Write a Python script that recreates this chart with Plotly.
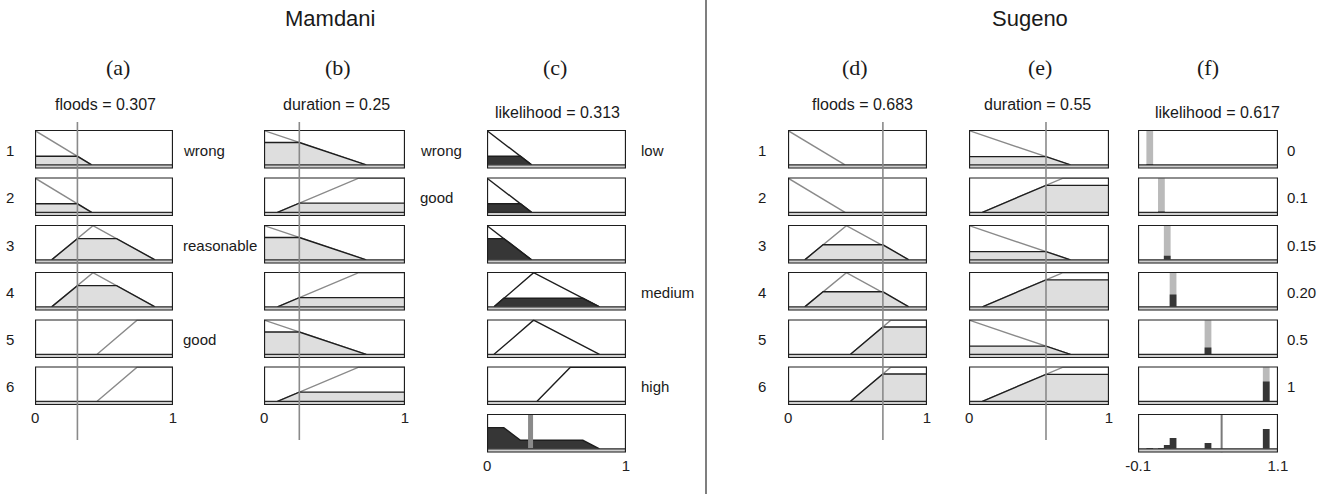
import plotly.graph_objects as go

W, H = 1322, 494

# ---------------- data ----------------
# membership functions (breakpoints)
floods_wrong_x = [0.0, 0.41];            floods_wrong_y = [1, 0]
floods_reason_x = [0.12, 0.42, 0.87];    floods_reason_y = [0, 1, 0]
floods_good_x = [0.45, 0.74, 1.0];       floods_good_y = [0, 1, 1]
dur_wrong_x = [0.0, 0.725];              dur_wrong_y = [1, 0]
dur_good_x = [0.095, 0.672, 1.0];        dur_good_y = [0, 1, 1]
lik_low_x = [0.0, 0.32];                 lik_low_y = [1, 0]
lik_med_x = [0.05, 0.335, 0.81];         lik_med_y = [0, 1, 0]
lik_high_x = [0.36, 0.60, 1.0];          lik_high_y = [0, 1, 1]

# rules
rule_floods = ["wrong", "wrong", "reasonable", "reasonable", "good", "good"]
rule_duration = ["wrong", "good", "wrong", "good", "wrong", "good"]
rule_mam_out = ["low", "low", "low", "medium", "medium", "high"]

# Mamdani inputs / output
mam_floods = 0.307
mam_duration = 0.25
mam_likelihood = 0.313
# clipped (fired) areas
mam_floods_fill_x = [[0, 0, 0.307, 0.41], [0, 0, 0.307, 0.41],
                     [0.12, 0.307, 0.591, 0.87], [0.12, 0.307, 0.591, 0.87], None, None]
mam_floods_fill_y = [[0, 0.25, 0.25, 0], [0, 0.25, 0.25, 0],
                     [0, 0.62, 0.62, 0], [0, 0.62, 0.62, 0], None, None]
mam_dur_fill_x = [[0, 0, 0.25, 0.725], [0.095, 0.25, 1, 1]] * 3
mam_dur_fill_y = [[0, 0.655, 0.655, 0], [0, 0.27, 0.27, 0]] * 3
mam_out_fill_x = [[0, 0, 0.24, 0.32], [0, 0, 0.24, 0.32], [0, 0, 0.12, 0.32],
                  [0.05, 0.12, 0.69, 0.81], None, None]
mam_out_fill_y = [[0, 0.25, 0.25, 0], [0, 0.25, 0.25, 0], [0, 0.62, 0.62, 0],
                  [0, 0.25, 0.25, 0], None, None]
mam_agg_x = [0, 0, 0.12, 0.24, 0.69, 0.81]
mam_agg_y = [0, 0.62, 0.62, 0.25, 0.25, 0]

# Sugeno inputs / output
sug_floods = 0.683
sug_duration = 0.55
sug_likelihood = 0.617
sug_floods_fill_x = [None, None, [0.12, 0.252, 0.683, 0.87], [0.12, 0.252, 0.683, 0.87],
                     [0.45, 0.683, 1, 1], [0.45, 0.683, 1, 1]]
sug_floods_fill_y = [None, None, [0, 0.44, 0.44, 0], [0, 0.44, 0.44, 0],
                     [0, 0.80, 0.80, 0], [0, 0.80, 0.80, 0]]
sug_dur_fill_x = [[0, 0, 0.55, 0.725], [0.095, 0.55, 1, 1]] * 3
sug_dur_fill_y = [[0, 0.24, 0.24, 0], [0, 0.79, 0.79, 0]] * 3
sug_consts = [0, 0.1, 0.15, 0.20, 0.5, 1.0]
sug_const_labels = ["0", "0.1", "0.15", "0.20", "0.5", "1"]
sug_fire = [0.02, 0.02, 0.12, 0.36, 0.20, 0.58]
sug_agg = [0.02, 0.02, 0.11, 0.32, 0.17, 0.58]

# ---------------- layout geometry (pixels) ----------------
col_px = [(35, 173), (264, 405), (487, 626), (788, 927), (969, 1109), (1138, 1278)]
col_rng = [(0, 1), (0, 1), (0, 1), (0, 1), (0, 1), (-0.1, 1.1)]
row_top = [130, 177.5, 225, 272, 319.5, 366.5, 414]
BOX_H = 38.5
YR = (-0.107, 1.02)

def px(xp):
    return xp / W

def py(yp):
    return 1 - yp / H

def xa(c):
    return "x" if c == 0 else f"x{c+1}"

def ya(r):
    return "y" if r == 0 else f"y{r+1}"

SANS = "Liberation Sans, Arial, sans-serif"
SERIF = "Liberation Serif, Times New Roman, serif"
GRAYLINE = "#8a8a8a"
BLACK = "#1e1e1e"
LIGHT = "#dedede"
DARK = "#363636"

fig = go.Figure()
shapes = []
annotations = []

def add_line(c, r, xs, ys, color, width=1.4):
    fig.add_trace(go.Scatter(x=xs, y=ys, mode="lines", line=dict(color=color, width=width),
                             xaxis=xa(c), yaxis=ya(r), hoverinfo="skip", showlegend=False))

def add_fill(c, r, xs, ys, fillcolor):
    if xs is None:
        return
    fig.add_trace(go.Scatter(x=xs, y=ys, mode="lines", fill="toself", fillcolor=fillcolor,
                             line=dict(color=BLACK, width=1.4),
                             xaxis=xa(c), yaxis=ya(r), hoverinfo="skip", showlegend=False))

floods_mf = {"wrong": (floods_wrong_x, floods_wrong_y),
             "reasonable": (floods_reason_x, floods_reason_y),
             "good": (floods_good_x, floods_good_y)}
dur_mf = {"wrong": (dur_wrong_x, dur_wrong_y), "good": (dur_good_x, dur_good_y)}
lik_mf = {"low": (lik_low_x, lik_low_y), "medium": (lik_med_x, lik_med_y),
          "high": (lik_high_x, lik_high_y)}

for r in range(6):
    # (a) floods Mamdani
    mx, my = floods_mf[rule_floods[r]]
    add_line(0, r, mx, my, GRAYLINE)
    add_fill(0, r, mam_floods_fill_x[r], mam_floods_fill_y[r], LIGHT)
    # (b) duration Mamdani
    mx, my = dur_mf[rule_duration[r]]
    add_line(1, r, mx, my, GRAYLINE)
    add_fill(1, r, mam_dur_fill_x[r], mam_dur_fill_y[r], LIGHT)
    # (c) likelihood Mamdani
    mx, my = lik_mf[rule_mam_out[r]]
    add_line(2, r, mx, my, BLACK)
    add_fill(2, r, mam_out_fill_x[r], mam_out_fill_y[r], DARK)
    # (d) floods Sugeno
    mx, my = floods_mf[rule_floods[r]]
    add_line(3, r, mx, my, GRAYLINE)
    add_fill(3, r, sug_floods_fill_x[r], sug_floods_fill_y[r], LIGHT)
    # (e) duration Sugeno
    mx, my = dur_mf[rule_duration[r]]
    add_line(4, r, mx, my, GRAYLINE)
    add_fill(4, r, sug_dur_fill_x[r], sug_dur_fill_y[r], LIGHT)
    # (f) constants Sugeno
    fig.add_trace(go.Bar(x=[sug_consts[r]], y=[1.0], width=0.058, marker=dict(color="#bababa", line=dict(width=0)),
                         xaxis=xa(5), yaxis=ya(r), hoverinfo="skip", showlegend=False))
    fig.add_trace(go.Bar(x=[sug_consts[r]], y=[sug_fire[r]], width=0.058, marker=dict(color=DARK, line=dict(width=0)),
                         xaxis=xa(5), yaxis=ya(r), hoverinfo="skip", showlegend=False))

# aggregated outputs
add_fill(2, 6, mam_agg_x, mam_agg_y, DARK)
add_line(2, 6, [mam_likelihood, mam_likelihood], [0, 1.02], "#8a8a8a", width=5)
fig.add_trace(go.Bar(x=sug_consts, y=sug_agg, width=0.058, marker=dict(color=DARK, line=dict(width=0)),
                     xaxis=xa(5), yaxis=ya(6), hoverinfo="skip", showlegend=False))
add_line(5, 6, [sug_likelihood, sug_likelihood], [-0.107, 1.02], "#7a7a7a", width=2)

# axes
layout = dict(width=W, height=H, margin=dict(l=0, r=0, t=0, b=0, autoexpand=False),
              paper_bgcolor="white", plot_bgcolor="rgba(0,0,0,0)",
              barmode="overlay", showlegend=False)
for c in range(6):
    x0p, x1p = col_px[c]
    lo, hi = col_rng[c]
    nrows = 7 if c in (2, 5) else 6
    key = "xaxis" if c == 0 else f"xaxis{c+1}"
    tv = [lo, hi]
    tt = ["-0.1", "1.1"] if c == 5 else ["0", "1"]
    layout[key] = dict(domain=[px(x0p), px(x1p)], range=[lo - 0.001, hi + 0.001],
                       anchor=ya(nrows - 1), showgrid=False, zeroline=False, showline=False,
                       ticks="", tickvals=tv, ticktext=tt, ticklabelstandoff=2, automargin=False,
                       tickfont=dict(family=SANS, size=15, color="#222"), fixedrange=True)
for r in range(7):
    key = "yaxis" if r == 0 else f"yaxis{r+1}"
    layout[key] = dict(domain=[py(row_top[r] + BOX_H), py(row_top[r])], range=list(YR),
                       anchor="x", visible=False, fixedrange=True, automargin=False)

# panel boxes
for c in range(6):
    lo, hi = col_rng[c]
    nrows = 7 if c in (2, 5) else 6
    for r in range(nrows):
        shapes.append(dict(type="rect", xref=xa(c), yref=ya(r), x0=lo, x1=hi, y0=YR[0], y1=0,
                           fillcolor="#cfcfcf", line=dict(width=0), layer="above"))
        shapes.append(dict(type="line", xref=xa(c), yref=ya(r), x0=lo, x1=hi, y0=0, y1=0,
                           line=dict(color="#2a2a2a", width=1.3), layer="above"))
        shapes.append(dict(type="rect", xref=xa(c), yref=ya(r), x0=lo, x1=hi, y0=YR[0], y1=YR[1],
                           line=dict(color="#1e1e1e", width=2), layer="above"))

# input value lines
for c, val in [(0, mam_floods), (1, mam_duration), (3, sug_floods), (4, sug_duration)]:
    shapes.append(dict(type="line", xref=xa(c), yref="paper", x0=val, x1=val,
                       y0=py(440), y1=py(122), line=dict(color="#8a8a8a", width=1.6), layer="above"))

# divider
shapes.append(dict(type="line", xref="paper", yref="paper", x0=px(706), x1=px(706), y0=0, y1=1,
                   line=dict(color="#555", width=1.5)))

def ann(text, xp, yp, size=15, family=SANS, xanchor="center"):
    annotations.append(dict(text=text, x=px(xp), y=py(yp), xref="paper", yref="paper",
                            showarrow=False, xanchor=xanchor, yanchor="middle",
                            font=dict(family=family, size=size, color="#1a1a1a")))

ann("Mamdani", 330, 18, size=22)
ann("Sugeno", 1030, 18, size=22)
for t, xp in [("(a)", 118), ("(b)", 338), ("(c)", 555), ("(d)", 855), ("(e)", 1040), ("(f)", 1208)]:
    ann(t, xp, 68, size=22, family=SERIF)
ann("floods = 0.307", 105, 104, size=16)
ann("duration = 0.25", 336, 104, size=16)
ann("likelihood = 0.313", 557, 112, size=16)
ann("floods = 0.683", 862, 104, size=16)
ann("duration = 0.55", 1037, 104, size=16)
ann("likelihood = 0.617", 1217, 112, size=16)

row_center = [row_top[r] + BOX_H / 2 + 1 for r in range(7)]
for r in range(6):
    ann(str(r + 1), 10, row_center[r], size=15)
    ann(str(r + 1), 762, row_center[r], size=15)
    ann(sug_const_labels[r], 1285, row_center[r], size=15, xanchor="left")

for txt, r in [("wrong", 0), ("reasonable", 2), ("good", 4)]:
    ann(txt, 181, row_center[r], xanchor="left")
for txt, r in [("wrong", 0), ("good", 1)]:
    ann(txt, 418, row_center[r], xanchor="left")
for txt, r in [("low", 0), ("medium", 3), ("high", 5)]:
    ann(txt, 639, row_center[r], xanchor="left")

layout["shapes"] = shapes
layout["annotations"] = annotations
fig.update_layout(**layout)
fig.write_html("out.html")
